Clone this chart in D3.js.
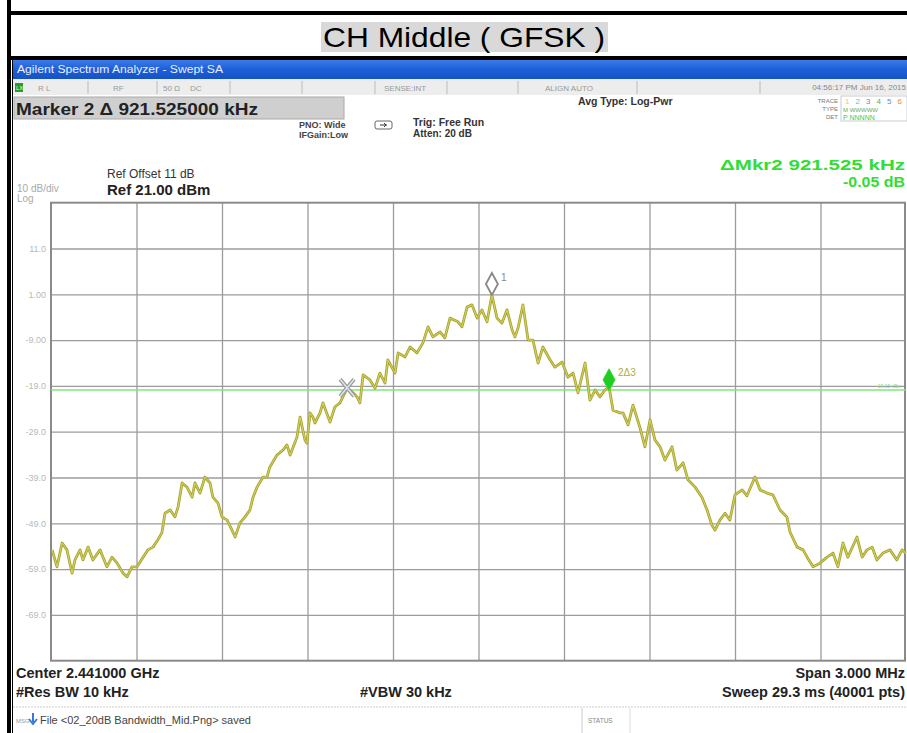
<!DOCTYPE html>
<html><head><meta charset="utf-8">
<script src="https://cdn.jsdelivr.net/npm/d3@7"></script>
<style>
html,body{margin:0;padding:0;background:#fff;}
svg{display:block;font-family:"Liberation Sans",Arial,sans-serif;}
</style></head>
<body>
<svg id="c" width="907" height="733"></svg>
<script>
// ---- data ----
const titleText = "CH Middle ( GFSK )";
const freqOffsetMHz = [-1.496,-1.479,-1.461,-1.444,-1.426,-1.416,-1.398,-1.388,-1.370,-1.353,-1.328,-1.304,-1.286,-1.268,-1.247,-1.233,-1.216,-1.198,-1.177,-1.160,-1.142,-1.125,-1.111,-1.100,-1.082,-1.065,-1.054,-1.040,-1.023,-1.005,-0.995,-0.977,-0.960,-0.942,-0.932,-0.914,-0.900,-0.882,-0.865,-0.854,-0.837,-0.819,-0.802,-0.791,-0.777,-0.756,-0.742,-0.732,-0.707,-0.686,-0.672,-0.661,-0.637,-0.626,-0.609,-0.602,-0.591,-0.581,-0.574,-0.556,-0.546,-0.521,-0.504,-0.486,-0.461,-0.444,-0.426,-0.416,-0.405,-0.381,-0.363,-0.346,-0.328,-0.318,-0.293,-0.282,-0.258,-0.240,-0.216,-0.195,-0.177,-0.160,-0.135,-0.118,-0.100,-0.072,-0.058,-0.040,-0.023,-0.005,0.012,0.030,0.047,0.065,0.082,0.100,0.118,0.128,0.139,0.156,0.174,0.191,0.209,0.226,0.251,0.268,0.293,0.314,0.332,0.349,0.374,0.391,0.409,0.426,0.444,0.458,0.472,0.496,0.507,0.525,0.542,0.567,0.584,0.602,0.619,0.637,0.654,0.679,0.696,0.718,0.735,0.760,0.784,0.802,0.819,0.830,0.847,0.865,0.882,0.900,0.925,0.942,0.970,0.988,1.012,1.033,1.058,1.082,1.093,1.118,1.139,1.153,1.174,1.198,1.223,1.244,1.261,1.279,1.296,1.328,1.346,1.363,1.381,1.398,1.419,1.444,1.468,1.486,1.500];
const levelDbm = [-54.8,-58.5,-53.3,-54.8,-59.9,-57.0,-54.8,-57.0,-54.2,-57.0,-54.8,-58.5,-56.4,-57.7,-59.9,-60.7,-58.5,-58.5,-56.4,-54.8,-54.2,-52.6,-51.1,-46.8,-46.1,-47.6,-45.4,-40.2,-41.1,-43.3,-40.2,-42.4,-38.9,-40.2,-43.3,-44.6,-47.6,-48.3,-50.5,-52.0,-48.9,-47.6,-46.1,-43.3,-41.1,-38.9,-38.9,-36.7,-34.1,-33.0,-31.9,-34.1,-30.2,-25.8,-30.8,-31.5,-24.9,-25.8,-27.1,-24.9,-22.7,-26.9,-23.6,-22.7,-19.5,-20.3,-21.4,-22.7,-16.6,-17.7,-19.5,-16.2,-18.4,-13.3,-16.2,-11.8,-12.7,-10.5,-11.8,-9.6,-6.1,-8.3,-7.2,-8.5,-4.2,-5.0,-6.1,-1.8,-1.3,-4.2,-2.4,-5.0,0.85,-4.2,-5.3,-2.4,-6.8,-8.3,-6.3,-1.3,-9.0,-9.0,-14.0,-10.5,-13.3,-14.9,-13.8,-17.1,-16.2,-20.5,-14.0,-22.1,-19.9,-21.4,-19.9,-19.2,-24.3,-24.9,-24.9,-27.5,-23.2,-28.2,-32.3,-26.4,-30.8,-32.3,-35.2,-32.3,-37.4,-35.8,-39.5,-41.1,-43.3,-46.1,-49.4,-50.5,-48.3,-46.8,-48.3,-42.8,-41.7,-43.0,-38.9,-41.7,-42.4,-42.8,-46.1,-47.6,-50.9,-54.2,-54.8,-56.4,-58.5,-57.7,-56.4,-55.5,-58.5,-53.3,-56.4,-52.0,-56.4,-54.8,-54.2,-57.0,-55.5,-54.8,-57.0,-54.8,-55.5];
const yTickValues = [11, 1, -9, -19, -29, -39, -49, -59, -69];
const yTickLabels = ["11.0","1.00","-9.00","-19.0","-29.0","-39.0","-49.0","-59.0","-69.0"];
const xGridValues = [-1.2,-0.9,-0.6,-0.3,0,0.3,0.6,0.9,1.2];
const refLevel = 21, bottomLevel = -79;
const displayLineDbm = -19.9;
const marker1 = {f:0.047, v:0.85, label:"1"};
const markerRef = {f:-0.461, v:-19.5};
const marker2 = {f:0.458, v:-19.2, label:"2Δ3"};

// ---- drawing ----
const svg = d3.select("#c");
const W = 907, H = 733;

// frame
svg.append("rect").attr("x",0).attr("y",0).attr("width",W).attr("height",H).attr("fill","#fff");
svg.append("rect").attr("x",7).attr("y",11).attr("width",W-7).attr("height",4).attr("fill","#000");
svg.append("rect").attr("x",7).attr("y",56).attr("width",W-7).attr("height",4).attr("fill","#000");
svg.append("rect").attr("x",7).attr("y",0).attr("width",4).attr("height",H).attr("fill","#000");
svg.append("rect").attr("x",12).attr("y",56).attr("width",1).attr("height",H-56).attr("fill","#000");

// title
svg.append("rect").attr("x",321).attr("y",22).attr("width",287).attr("height",30).attr("fill","#d9d9d9");
svg.append("text").attr("x",323).attr("y",47).attr("font-size",28).attr("fill","#000")
  .attr("textLength",282).attr("lengthAdjust","spacingAndGlyphs").text(titleText);

// window blue bar
const grad = svg.append("defs").append("linearGradient").attr("id","bb").attr("x1",0).attr("x2",0).attr("y1",0).attr("y2",1);
grad.append("stop").attr("offset","0").attr("stop-color","#3b7be8");
grad.append("stop").attr("offset","0.5").attr("stop-color","#1d5fd8");
grad.append("stop").attr("offset","1").attr("stop-color","#1552c4");
svg.append("rect").attr("x",13).attr("y",60).attr("width",W-13).attr("height",19).attr("fill","url(#bb)");
svg.append("text").attr("x",17).attr("y",73).attr("font-size",10).attr("fill","#e8eeff")
  .attr("textLength",206).attr("lengthAdjust","spacingAndGlyphs").text("Agilent Spectrum Analyzer - Swept SA");

// status row
svg.append("rect").attr("x",13).attr("y",79).attr("width",W-13).attr("height",16).attr("fill","#ededed");
svg.append("rect").attr("x",15).attr("y",83).attr("width",8).attr("height",9).attr("fill","#2e9a2e");
svg.append("text").attr("x",16).attr("y",90).attr("font-size",6).attr("fill","#dfd").text("LXI");
const sepX = [88,157,230,302,375,447,518,637,760];
sepX.forEach(x=>svg.append("line").attr("x1",x).attr("x2",x).attr("y1",81).attr("y2",94).attr("stroke","#bbb"));
const statusTexts = [[38,"R L"],[113,"RF"],[163,"50 Ω"],[190,"DC"],[384,"SENSE:INT"],[545,"ALIGN AUTO"]];
statusTexts.forEach(([x,t])=>svg.append("text").attr("x",x).attr("y",91).attr("font-size",8).attr("fill","#999").text(t));
svg.append("text").attr("x",906).attr("y",90).attr("text-anchor","end").attr("font-size",8).attr("fill","#888").text("04:56:17 PM Jun 16, 2015");

// marker box
svg.append("rect").attr("x",14).attr("y",97).attr("width",330).attr("height",22).attr("fill","#cfcfcf");
svg.append("rect").attr("x",14).attr("y",97).attr("width",330).attr("height",22).attr("fill","none").attr("stroke","#aaa");
svg.append("text").attr("x",16).attr("y",115).attr("font-size",17).attr("font-weight","bold").attr("fill","#222")
  .attr("textLength",242).attr("lengthAdjust","spacingAndGlyphs").text("Marker 2 Δ 921.525000 kHz");

const small = (x,y,t,opt={})=>svg.append("text").attr("x",x).attr("y",y).attr("font-size",opt.size||9)
  .attr("font-weight",opt.bold?"bold":"normal").attr("fill",opt.fill||"#333")
  .attr("text-anchor",opt.anchor||"start").text(t);
small(299,128,"PNO: Wide",{bold:true,size:9,fill:"#444"});
small(299,138,"IFGain:Low",{bold:true,size:9,fill:"#444"});
svg.append("rect").attr("x",375).attr("y",121).attr("width",17).attr("height",8).attr("rx",2).attr("fill","none").attr("stroke","#666");
svg.append("path").attr("d","M380,125 L387,125 M384,123 L386,125 L384,127").attr("stroke","#333").attr("fill","none");
small(413,126,"Trig: Free Run",{bold:true,size:10.5,fill:"#333"});
small(413,137,"Atten: 20 dB",{bold:true,size:10,fill:"#333"});
small(578,105,"Avg Type: Log-Pwr",{bold:true,size:10.5,fill:"#333"});
small(838,103,"TRACE",{size:6,fill:"#777",anchor:"end"});
small(838,111,"TYPE",{size:6,fill:"#777",anchor:"end"});
small(838,119,"DET",{size:6,fill:"#777",anchor:"end"});
svg.append("rect").attr("x",841).attr("y",96).attr("width",66).attr("height",25).attr("fill","none").attr("stroke","#ccc");
const traceNums = ["1","2","3","4","5","6"], traceCols=["#dddd00","#44ccdd","#dd44dd","#44bb44","#5588ff","#ff8800"];
traceNums.forEach((t,i)=>small(845+i*10.5,104,t,{size:8,fill:traceCols[i]}));
small(843,112,"M WWWWW",{size:6,fill:"#6a6"});
small(843,120,"P NNNNN",{size:7,fill:"#4c4"});

svg.append("text").attr("x",905).attr("y",170).attr("text-anchor","end").attr("font-size",14.5).attr("font-weight","bold")
  .attr("fill","#33dd33").attr("textLength",185).attr("lengthAdjust","spacingAndGlyphs").text("ΔMkr2 921.525 kHz");
svg.append("text").attr("x",905).attr("y",187).attr("text-anchor","end").attr("font-size",14.5).attr("font-weight","bold")
  .attr("fill","#33dd33").attr("textLength",62).attr("lengthAdjust","spacingAndGlyphs").text("-0.05 dB");

small(107,178,"Ref Offset 11 dB",{size:12,fill:"#333"});
small(107,195,"Ref 21.00 dBm",{bold:true,size:15,fill:"#222"});
small(17,192,"10 dB/div",{size:10,fill:"#aaa"});
small(17,202,"Log",{size:10,fill:"#aaa"});

// plot
const x0 = 51, x1 = 906, y0 = 202.7, y1 = 660.7;
const x = d3.scaleLinear().domain([-1.5,1.5]).range([x0,x1]);
const y = d3.scaleLinear().domain([bottomLevel, refLevel]).range([y1,y0]);
const g = svg.append("g");

// grid via axes
const gy = g.append("g").attr("transform",`translate(${x0},0)`)
  .call(d3.axisLeft(y).tickValues(yTickValues).tickSize(-(x1-x0)).tickPadding(5)
    .tickFormat((d,i)=>yTickLabels[i]));
gy.select(".domain").remove();
gy.selectAll("line").attr("stroke","#9c9c9c").attr("stroke-width",1.3);
gy.selectAll("text").attr("fill","#b8b8b8").attr("font-size",9).attr("font-family","Liberation Sans, Arial");

const gx = g.append("g").attr("transform",`translate(0,${y1})`)
  .call(d3.axisBottom(x).tickValues(xGridValues).tickSize(-(y1-y0)).tickFormat(""));
gx.select(".domain").remove();
gx.selectAll("line").attr("stroke","#9c9c9c").attr("stroke-width",1.3);

g.append("rect").attr("x",x0).attr("y",y0).attr("width",x1-x0-1).attr("height",y1-y0)
  .attr("fill","none").attr("stroke","#8a8a8a").attr("stroke-width",2);

// display line
g.append("line").attr("x1",x0).attr("x2",x1).attr("y1",y(displayLineDbm)).attr("y2",y(displayLineDbm))
  .attr("stroke","#7ee87e").attr("stroke-width",1.5);
small(902,y(displayLineDbm)-2,"-19.15 dBm",{size:5,fill:"#8d8",anchor:"end"});

// trace
const pts = freqOffsetMHz.map((f,i)=>[f,levelDbm[i]]);
const line = d3.line().x(d=>x(d[0])).y(d=>y(d[1]));
g.append("path").datum(pts).attr("d",line).attr("fill","none").attr("stroke","#a9a630").attr("stroke-width",2.8).attr("stroke-linejoin","round");
g.append("path").datum(pts).attr("d",line).attr("fill","none").attr("stroke","#d9d76c").attr("stroke-width",0.9).attr("stroke-linejoin","round");

// markers
const dia = (cx,by)=>`M${cx},${by} L${cx-6},${by-11} L${cx},${by-22} L${cx+6},${by-11} Z`;
const m1x = x(marker1.f), m1y = y(marker1.v);
g.append("path").attr("d",dia(m1x,m1y)).attr("fill","#fff").attr("stroke","#888").attr("stroke-width",1.8);
small(m1x+9,m1y-14,marker1.label,{size:10,fill:"#888"});
const m2x = x(marker2.f), m2y = y(marker2.v);
g.append("path").attr("d",dia(m2x,m2y+4)).attr("fill","#22cc22").attr("stroke","#33dd33").attr("stroke-width",1);
small(m2x+9,m2y-11,marker2.label,{size:10,fill:"#b0ad40"});
const rx = x(markerRef.f), ry = y(markerRef.v);
const xp = `M${rx-7},${ry-9} L${rx+7},${ry+8} M${rx+7},${ry-9} L${rx-7},${ry+8}`;
g.append("path").attr("d",xp).attr("stroke","#999").attr("stroke-width",4).attr("fill","none");
g.append("path").attr("d",xp).attr("stroke","#dde4ee").attr("stroke-width",1.5).attr("fill","none");

// bottom texts
small(16,678,"Center 2.441000 GHz",{bold:true,size:14.5,fill:"#222"});
small(16,697,"#Res BW 10 kHz",{bold:true,size:14.5,fill:"#222"});
small(360,697,"#VBW 30 kHz",{bold:true,size:14.5,fill:"#222"});
small(905,678,"Span 3.000 MHz",{bold:true,size:14.5,fill:"#222",anchor:"end"});
small(905,697,"Sweep  29.3 ms (40001 pts)",{bold:true,size:14.5,fill:"#222",anchor:"end"});

// message bar
svg.append("line").attr("x1",13).attr("x2",W).attr("y1",707).attr("y2",707).attr("stroke","#ccc").attr("stroke-dasharray","2,1");
svg.append("line").attr("x1",582).attr("x2",582).attr("y1",708).attr("y2",733).attr("stroke","#ccc");
svg.append("line").attr("x1",630).attr("x2",630).attr("y1",708).attr("y2",733).attr("stroke","#ddd");
small(16,723,"MSG",{size:6,fill:"#999"});
svg.append("path").attr("d","M33,713 L33,722 M29,719 L33,724 L37,719").attr("stroke","#3a78d8").attr("stroke-width",2).attr("fill","none");
small(40,724,"File <02_20dB Bandwidth_Mid.Png> saved",{size:11,fill:"#444"});
small(588,723,"STATUS",{size:6.5,fill:"#888"});
</script>
</body></html>
